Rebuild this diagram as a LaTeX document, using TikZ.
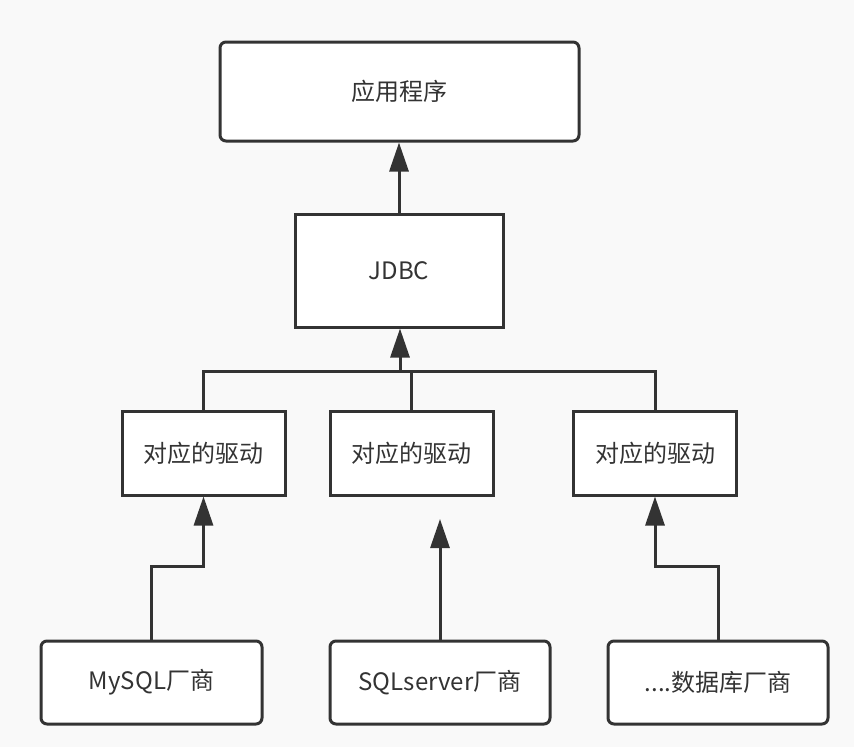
\documentclass[tikz,border=0pt]{standalone}
\usepackage{fontspec}
\setmainfont{Noto Sans CJK SC}
\definecolor{Linea}{RGB}{51,51,51}
\definecolor{Fondo}{RGB}{249,249,249}
\usetikzlibrary{positioning, arrows.meta}

\begin{document}
\begin{tikzpicture}[
  x=1pt, y=-1pt,
  font=\fontsize{24pt}{28pt}\selectfont,
  caja/.style={draw=Linea, fill=white, line width=3pt, align=center,
               text=Linea, inner sep=0pt},
  redonda/.style={caja, rounded corners=6pt},
  linea/.style={draw=Linea, line width=3pt},
  arr/.style={linea, -{Triangle[length=29pt, width=19pt]}}
]

%% ——— Fondo ———
\fill[Fondo] (0,0) rectangle (854,747);
\useasboundingbox (0,0) rectangle (854,747);

%% ——— Fila 1: aplicación ———
\node[redonda, minimum width=359pt, minimum height=99pt] (app) at (399.5, 91.5) {应用程序};

%% ——— Fila 2: JDBC ———
\node[caja, minimum width=208pt, minimum height=113pt] (jdbc) at (399, 270.5) {JDBC};

\draw[arr] (jdbc.north) -- (jdbc.north |- app.south);

%% ——— Fila 3: drivers ———
\node[caja, minimum width=163pt, minimum height=84pt] (drv1) at (203.5, 453) {对应的驱动};
\node[caja, minimum width=163pt, minimum height=84pt] (drv2) at (411.5, 453) {对应的驱动};
\node[caja, minimum width=163pt, minimum height=84pt] (drv3) at (655, 453) {对应的驱动};

\coordinate (bus) at (400, 371);
\draw[linea] (drv1.north) |- (bus) -| (drv3.north);
\draw[linea] (drv2.north) -- (drv2.north |- bus);
\draw[arr] (bus) -- (bus |- jdbc.south);

%% ——— Fila 4: fabricantes ———
\node[redonda, minimum width=221pt, minimum height=83pt] (mysql) at (151.5, 682.5) {MySQL厂商};
\node[redonda, minimum width=220pt, minimum height=83pt] (sqls)  at (440, 682.5) {SQLserver厂商};
\node[redonda, minimum width=220pt, minimum height=83pt] (otro)  at (718, 682.5) {....数据库厂商};

\coordinate (sqlfin) at (440, 519);
\draw[arr] (mysql.north) -- ++(0,-73) -| (drv1.south);
\draw[arr] (sqls.north) -- (sqlfin);
\draw[arr] (otro.north) -- ++(0,-73) -| (drv3.south);

\end{tikzpicture}
\end{document}
